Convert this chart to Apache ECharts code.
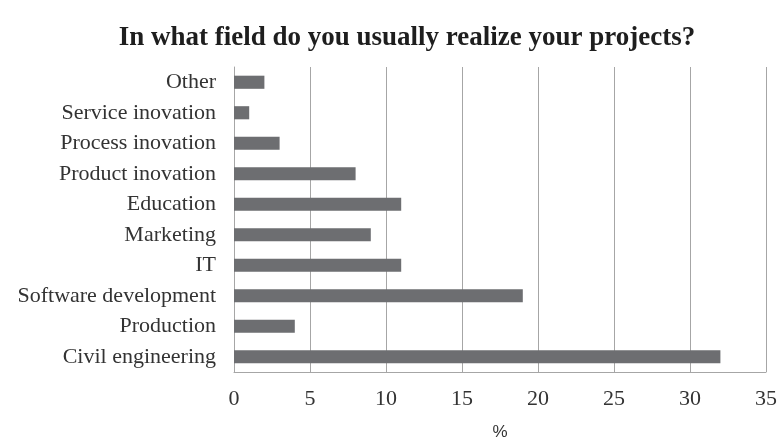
<!DOCTYPE html>
<html>
<head>
<meta charset="utf-8">
<script src="https://cdn.jsdelivr.net/npm/echarts@6/dist/echarts.min.js"></script>
<style>
  html, body { margin: 0; padding: 0; background: #fff; }
  #chart { width: 777px; height: 440px; }
</style>
</head>
<body>
<div id="chart"></div>
<script>
// Survey answers, listed bottom-to-top as drawn on the category axis
const categories = [
  'Civil engineering',
  'Production',
  'Software development',
  'IT',
  'Marketing',
  'Education',
  'Product inovation',
  'Process inovation',
  'Service inovation',
  'Other'
];
const percentages = [32, 4, 19, 11, 9, 11, 8, 3, 1, 2];
const xTicks = [0, 5, 10, 15, 20, 25, 30, 35];

const chart = echarts.init(document.getElementById('chart'));
const serif = '"Liberation Serif", "Times New Roman", serif';

chart.setOption({
  animation: false,
  backgroundColor: '#ffffff',
  title: {
    text: 'In what field do you usually realize your projects?',
    left: 402,
    top: 20,
    textAlign: 'center',
    textStyle: {
      fontFamily: serif,
      fontWeight: 'bold',
      fontSize: 27,
      color: '#1e1e1e'
    }
  },
  grid: {
    left: 234,
    right: 11,
    top: 67,
    bottom: 68,
    outerBoundsMode: 'none',
    containLabel: false
  },
  xAxis: {
    type: 'value',
    min: xTicks[0],
    max: xTicks[xTicks.length - 1],
    interval: 5,
    name: '%',
    nameLocation: 'middle',
    nameGap: 52,
    nameTextStyle: {
      fontFamily: '"Liberation Sans", Arial, sans-serif',
      fontSize: 17,
      color: '#333'
    },
    axisLine: { show: true, lineStyle: { color: '#a6a6a6', width: 1 } },
    axisTick: { show: false },
    axisLabel: {
      fontFamily: serif,
      fontSize: 22,
      color: '#333333',
      margin: 16
    },
    splitLine: { show: true, lineStyle: { color: '#a6a6a6', width: 1 } }
  },
  yAxis: {
    type: 'category',
    data: categories,
    axisLine: { show: true, lineStyle: { color: '#a6a6a6', width: 1 } },
    axisTick: { show: false },
    axisLabel: {
      fontFamily: serif,
      fontSize: 22,
      color: '#333333',
      margin: 18
    }
  },
  series: [{
    type: 'bar',
    data: percentages,
    barWidth: '43%',
    itemStyle: { color: '#6d6e71' }
  }]
});
</script>
</body>
</html>
